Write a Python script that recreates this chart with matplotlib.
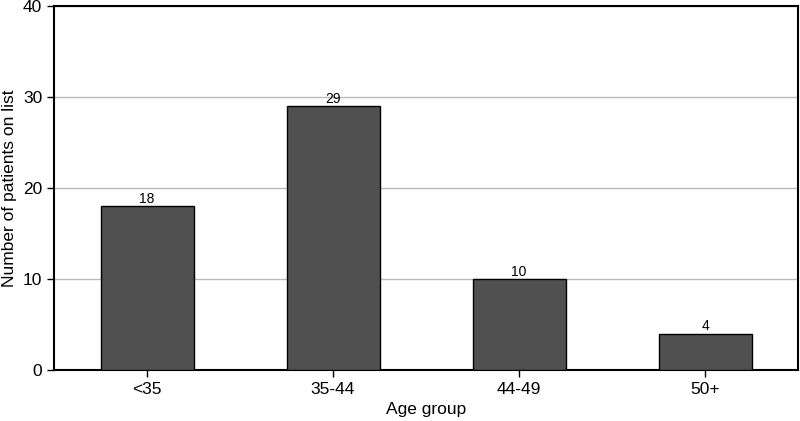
import matplotlib
matplotlib.use('Agg')
import matplotlib.pyplot as plt

plt.rcParams['font.family'] = ['Liberation Sans', 'DejaVu Sans']

groups = ['<35', '35-44', '44-49', '50+']
patients = [18, 29, 10, 4]

fig = plt.figure(figsize=(8, 4.21), dpi=100)
ax = fig.add_axes([0.0675, 0.121, 0.93, 0.865])

x = list(range(len(groups)))
bars = ax.bar(x, patients, width=0.5, color='#505050', edgecolor='black', linewidth=1, zorder=3)
for xi, v in zip(x, patients):
    ax.text(xi, v + 0.05, str(v), ha='center', va='bottom', fontsize=10)

ax.set_xlim(-0.5, 3.5)
ax.set_ylim(0, 40)
ax.set_yticks([0, 10, 20, 30, 40])
ax.set_xticks(x)
ax.set_xticklabels(groups)
ax.yaxis.grid(True, color='#bbbbbb', linewidth=1, zorder=0)
ax.tick_params(labelsize=12.5, length=5, width=1)
for s in ax.spines.values():
    s.set_linewidth(1.5)

ax.set_xlabel('Age group', fontsize=12.5)
ax.set_ylabel('Number of patients on list', fontsize=12.5)

fig.savefig('out.png', dpi=100)
